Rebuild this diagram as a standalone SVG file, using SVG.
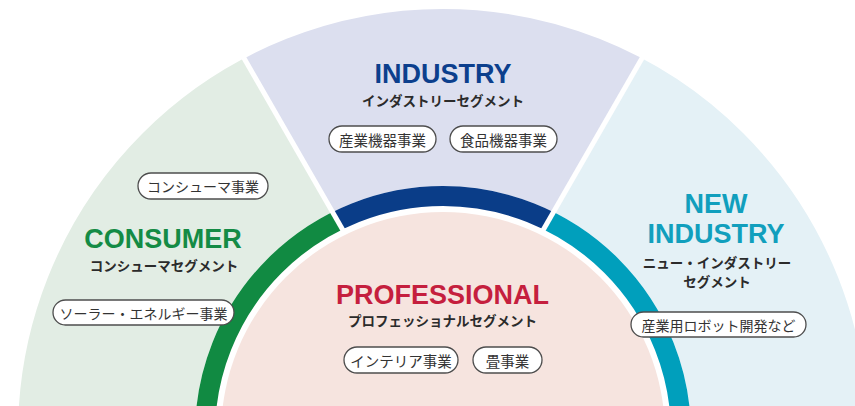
<svg xmlns="http://www.w3.org/2000/svg" width="855" height="406" viewBox="0 0 855 406">
<style>
.head{font-family:"Liberation Sans",Arial,sans-serif;font-weight:bold;font-size:27px;text-anchor:middle}
.sub{font-family:"Noto Sans CJK JP",sans-serif;font-weight:bold;font-size:13.5px;fill:#2b2b2b;text-anchor:middle}
.pill rect{fill:#ffffff;stroke:#4d4d4d;stroke-width:1.3}
.pill text{font-family:"Noto Sans CJK JP",sans-serif;font-size:14px;fill:#333333;text-anchor:middle;dominant-baseline:central}
.big text{font-size:14.5px}
.outer{fill:none;stroke-width:177}
.band{fill:none;stroke-width:20}
.div{stroke:#ffffff;stroke-width:5;fill:none}
</style>
<defs>
<clipPath id="cL"><polygon points="443,404 204.7,-10 -10,-10 -10,420 443,420"/></clipPath>
<clipPath id="cM"><polygon points="443,404 204.7,-10 681.3,-10"/></clipPath>
<clipPath id="cR"><polygon points="443,404 681.3,-10 865,-10 865,420 443,420"/></clipPath>
</defs>
<rect width="855" height="406" fill="#ffffff"/>
<g id="professional">
<circle cx="443" cy="434" r="222" fill="#f6e4df"/>
<text class="head" x="442.5" y="304" fill="#c51f3e">PROFESSIONAL</text>
<text class="sub" x="442.5" y="326">プロフェッショナルセグメント</text>
<g class="pill big"><rect x="344" y="347" width="114" height="26" rx="13"/><text x="401" y="360">インテリア事業</text></g>
<g class="pill big"><rect x="473" y="347" width="69" height="26" rx="13"/><text x="507.5" y="360">畳事業</text></g>
</g>
<g id="consumer">
<circle class="outer" cx="443" cy="434" r="336.5" stroke="#e2ede4" clip-path="url(#cL)"/>
<circle class="band" cx="443" cy="434" r="238" stroke="#118a42" clip-path="url(#cL)"/>
<text class="head" x="163" y="248" fill="#148b45">CONSUMER</text>
<text class="sub" x="164" y="271">コンシューマセグメント</text>
<g class="pill"><rect x="138" y="173" width="130" height="26" rx="13"/><text x="203" y="186">コンシューマ事業</text></g>
<g class="pill"><rect x="53" y="300" width="181" height="25" rx="12.5"/><text x="143.5" y="312.5">ソーラー・エネルギー事業</text></g>
</g>
<g id="industry">
<circle class="outer" cx="443" cy="434" r="336.5" stroke="#dcdfef" clip-path="url(#cM)"/>
<circle class="band" cx="443" cy="434" r="238" stroke="#0a3d88" clip-path="url(#cM)"/>
<text class="head" x="443" y="83" fill="#0c3f8d">INDUSTRY</text>
<text class="sub" x="443" y="106">インダストリーセグメント</text>
<g class="pill big"><rect x="329" y="126" width="107" height="26" rx="13"/><text x="382.5" y="139">産業機器事業</text></g>
<g class="pill big"><rect x="450" y="126" width="107" height="26" rx="13"/><text x="503.5" y="139">食品機器事業</text></g>
</g>
<g id="new-industry">
<circle class="outer" cx="443" cy="434" r="336.5" stroke="#e4f1f6" clip-path="url(#cR)"/>
<circle class="band" cx="443" cy="434" r="238" stroke="#009fbc" clip-path="url(#cR)"/>
<text class="head" x="716" y="213" fill="#119fbd">NEW</text>
<text class="head" x="716" y="243" fill="#119fbd">INDUSTRY</text>
<text class="sub" x="717" y="268">ニュー・インダストリー</text>
<text class="sub" x="717" y="287">セグメント</text>
<g class="pill"><rect x="631" y="312" width="175" height="25" rx="12.5"/><text x="718.5" y="324.5">産業用ロボット開発など</text></g>
</g>
<g id="connectors">
<line class="div" x1="343.7" y1="231.5" x2="208.6" y2="-3.3"/>
<line class="div" x1="542.3" y1="231.5" x2="677.4" y2="-3.3"/>
</g>
</svg>
